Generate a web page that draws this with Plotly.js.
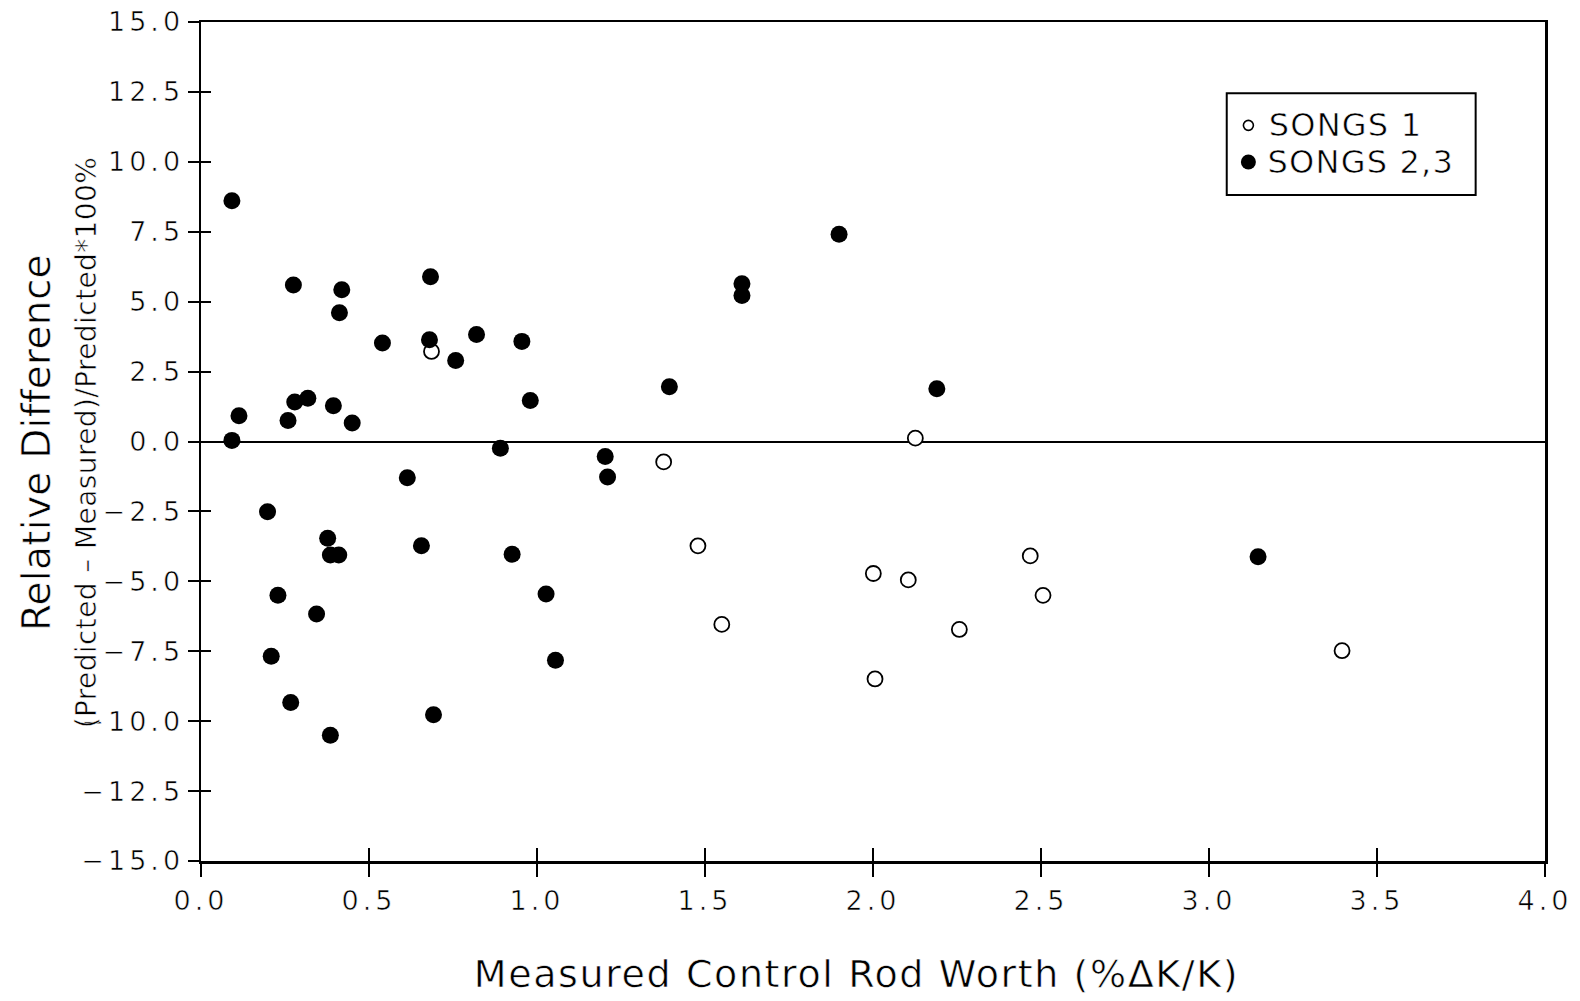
<!DOCTYPE html>
<html>
<head>
<meta charset="utf-8">
<script src="https://cdn.plot.ly/plotly-3.0.1.min.js"></script>
<style>
  html, body { margin: 0; padding: 0; background: #fff; }
  #chart { width: 1580px; height: 1001px; }
  #chart text { stroke: #fff; stroke-width: 0.6px; }
  #chart .xtick text, #chart .ytick text { letter-spacing: 4px; }
  #chart .annotation[data-index="0"] text { letter-spacing: 1.6px; }
  #chart .annotation[data-index="1"] text { letter-spacing: 0.3px; }
  #chart .annotation[data-index="2"] text { letter-spacing: 0.4px; }
  #chart .annotation[data-index="3"] text, #chart .annotation[data-index="4"] text { letter-spacing: 1.2px; }
</style>
</head>
<body>
<div id="chart"></div>
<script>
// SONGS 1 (open circles)
const songs1X = [1.377, 1.479, 1.550, 2.001, 2.006, 2.105, 2.126, 2.257, 2.468, 2.506, 3.396, 0.686];
const songs1Y = [-0.73, -3.73, -6.54, -4.72, -8.49, -4.95, 0.12, -6.72, -4.09, -5.50, -7.48, 3.22];

// SONGS 2,3 (filled circles)
const songs23X = [0.092, 0.092, 0.113, 0.275, 0.279, 0.259, 0.318, 0.394, 0.412, 0.419,
                  0.450, 0.540, 0.683, 0.680, 0.758, 0.820, 0.955, 0.980, 0.891, 0.614,
                  0.198, 0.377, 0.385, 0.410, 0.656, 0.926, 0.229, 0.344, 0.209, 0.267,
                  0.692, 0.385, 1.027, 1.055, 1.203, 1.210, 1.394, 1.610, 1.610, 1.899,
                  2.190, 3.146];
const songs23Y = [8.61, 0.04, 0.92, 5.60, 1.41, 0.75, 1.55, 1.28, 4.60, 5.43,
                  0.66, 3.52, 5.89, 3.64, 2.90, 3.83, 3.58, 1.47, -0.24, -1.30,
                  -2.51, -3.46, -4.06, -4.06, -3.73, -4.03, -5.50, -6.17, -7.68, -9.33,
                  -9.77, -10.50, -5.45, -7.82, -0.54, -1.27, 1.96, 5.64, 5.22, 7.41,
                  1.89, -4.12];

const xTicks = [0, 0.5, 1, 1.5, 2, 2.5, 3, 3.5, 4];
const yTicks = [-15, -12.5, -10, -7.5, -5, -2.5, 0, 2.5, 5, 7.5, 10, 12.5, 15];

const legendNames = ['SONGS 1', 'SONGS 2,3'];
const xTitle = 'Measured Control Rod Worth (%ΔK/K)';
const yTitleMain = 'Relative Difference';
const yTitleSub = '(Predicted – Measured)/Predicted*100%';

const FONT = 'DejaVu Sans, Verdana, sans-serif';

// legend box in paper coordinates
const LG = { x0: 0.7632, x1: 0.9484, y0: 0.7938, y1: 0.9150 };

const traces = [
  {
    type: 'scatter', mode: 'markers', name: legendNames[0], showlegend: false,
    x: songs1X, y: songs1Y,
    marker: { symbol: 'circle', size: 15, color: '#ffffff', line: { color: '#000', width: 1.8 } }
  },
  {
    type: 'scatter', mode: 'markers', name: legendNames[1], showlegend: false,
    x: songs23X, y: songs23Y,
    marker: { symbol: 'circle', size: 17, color: '#000000', line: { width: 0 } }
  },
  { type: 'scatter', mode: 'markers', x: [], y: [], xaxis: 'x2', yaxis: 'y2',
    showlegend: false, hoverinfo: 'skip' },
  // legend key symbols, on a small hidden axis pair spanning the legend box
  { type: 'scatter', mode: 'markers', x: [0.087], y: [0.685], xaxis: 'x3', yaxis: 'y3',
    showlegend: false, hoverinfo: 'skip',
    marker: { symbol: 'circle', size: 10, color: '#fff', line: { color: '#000', width: 1.6 } } },
  { type: 'scatter', mode: 'markers', x: [0.087], y: [0.325], xaxis: 'x3', yaxis: 'y3',
    showlegend: false, hoverinfo: 'skip',
    marker: { symbol: 'circle', size: 15, color: '#000', line: { width: 0 } } }
];

const layout = {
  width: 1580, height: 1001,
  margin: { l: 201, r: 35, t: 22, b: 140 },
  paper_bgcolor: '#fff', plot_bgcolor: '#fff',
  font: { family: FONT, color: '#000' },
  showlegend: false,
  xaxis: {
    range: [0, 4], tickvals: xTicks, tickformat: '.1f',
    showline: true, mirror: true, linecolor: '#000', linewidth: 2.5,
    ticks: 'outside', ticklen: 13, tickwidth: 2, tickcolor: '#000',
    showgrid: false, zeroline: false,
    tickfont: { family: FONT, size: 27, color: '#000' },
    ticklabelstandoff: 1
  },
  yaxis: {
    range: [-15, 15], tickvals: yTicks, tickformat: '.1f',
    showline: true, mirror: true, linecolor: '#000', linewidth: 2.5,
    ticks: 'outside', ticklen: 11, tickwidth: 2, tickcolor: '#000',
    showgrid: false, zeroline: true, zerolinecolor: '#000', zerolinewidth: 2,
    tickfont: { family: FONT, size: 27, color: '#000' },
    ticklabelstandoff: -2
  },
  xaxis2: {
    overlaying: 'x', anchor: 'y2', side: 'bottom', range: [0, 4], tickvals: xTicks,
    ticks: 'inside', ticklen: 13, tickwidth: 2, tickcolor: '#000',
    showticklabels: false, showline: false, showgrid: false, zeroline: false
  },
  yaxis2: {
    overlaying: 'y', anchor: 'x2', side: 'left', range: [-15, 15], tickvals: yTicks,
    ticks: 'inside', ticklen: 10, tickwidth: 2, tickcolor: '#000',
    showticklabels: false, showline: false, showgrid: false, zeroline: false
  },
  xaxis3: {
    domain: [LG.x0, LG.x1], anchor: 'y3', range: [0, 1], visible: false, fixedrange: true
  },
  yaxis3: {
    domain: [LG.y0, LG.y1], anchor: 'x3', range: [0, 1], visible: false, fixedrange: true
  },
  shapes: [
    { type: 'rect', xref: 'paper', yref: 'paper', x0: LG.x0, x1: LG.x1, y0: LG.y0, y1: LG.y1,
      line: { color: '#000', width: 2 }, fillcolor: 'rgba(0,0,0,0)', layer: 'above' }
  ],
  annotations: [
    { text: xTitle, xref: 'paper', yref: 'paper', x: 0.4874, y: -0.1347,
      xanchor: 'center', yanchor: 'middle', showarrow: false,
      font: { family: FONT, size: 38, color: '#000' } },
    { text: yTitleMain, xref: 'paper', yref: 'paper', x: -0.1228, y: 0.4994,
      xanchor: 'center', yanchor: 'middle', showarrow: false, textangle: -90,
      font: { family: FONT, size: 39, color: '#000' } },
    { text: yTitleSub, xref: 'paper', yref: 'paper', x: -0.0856, y: 0.4994,
      xanchor: 'center', yanchor: 'middle', showarrow: false, textangle: -90,
      font: { family: FONT, size: 28, color: '#000' } },
    { text: legendNames[0], xref: 'paper', yref: 'paper', x: 0.7969, y: 0.8778,
      xanchor: 'left', yanchor: 'middle', showarrow: false, borderpad: 0,
      font: { family: FONT, size: 32, color: '#000' } },
    { text: legendNames[1], xref: 'paper', yref: 'paper', x: 0.7969, y: 0.8337,
      xanchor: 'left', yanchor: 'middle', showarrow: false, borderpad: 0,
      font: { family: FONT, size: 32, color: '#000' } }
  ]
};

Plotly.newPlot('chart', traces, layout, { staticPlot: true, displayModeBar: false });
</script>
</body>
</html>
